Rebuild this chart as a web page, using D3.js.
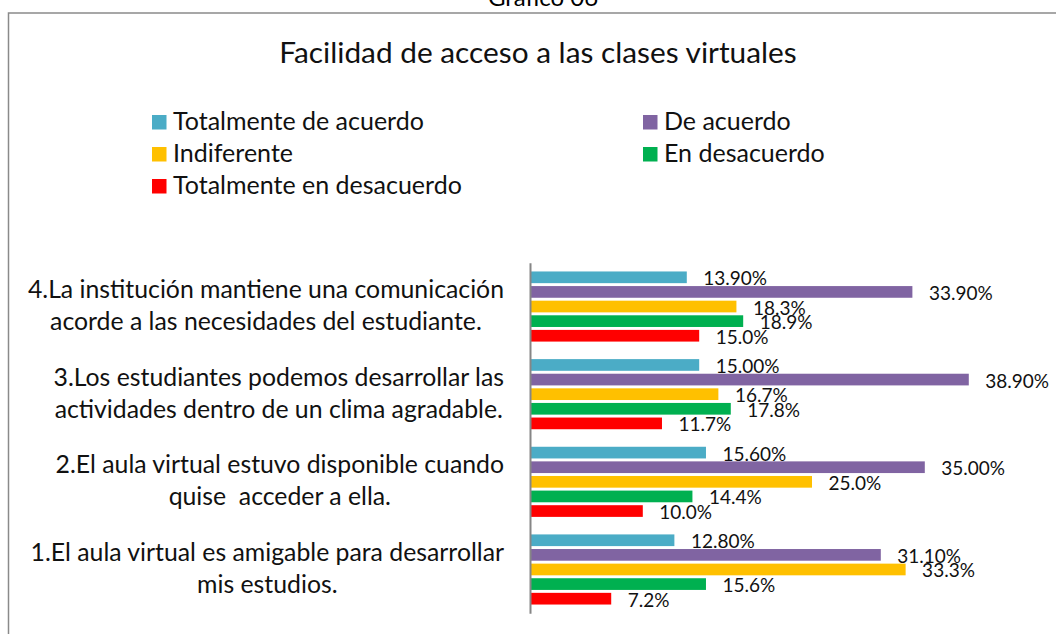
<!DOCTYPE html>
<html>
<head>
<meta charset="utf-8">
<script src="https://cdn.jsdelivr.net/npm/d3@7"></script>
<style>
  body { margin: 0; background: #fff; }
  svg { display: block; font-family: Lato, "Open Sans", sans-serif; }
</style>
</head>
<body>
<svg id="chart" width="1056" height="634"></svg>
<script>
// categories, bottom to top as in the source sheet
var categories = [
  "1.El aula virtual es amigable para desarrollar\nmis estudios.",
  "2.El aula virtual estuvo disponible cuando\nquise  acceder a ella.",
  "3.Los estudiantes podemos desarrollar las\nactividades dentro de un clima agradable.",
  "4.La institución mantiene una comunicación\nacorde a las necesidades del estudiante."
];
var seriesNames = ["Totalmente de acuerdo", "De acuerdo", "Indiferente", "En desacuerdo", "Totalmente en desacuerdo"];
var seriesColors = ["#4BACC6", "#8064A2", "#FFC000", "#00B050", "#FF0000"];
var seriesFormats = [".2%", ".2%", ".1%", ".1%", ".1%"];

var totalmenteDeAcuerdo = [0.128, 0.156, 0.150, 0.139];
var deAcuerdo = [0.311, 0.350, 0.389, 0.339];
var indiferente = [0.333, 0.250, 0.167, 0.183];
var enDesacuerdo = [0.156, 0.144, 0.178, 0.189];
var totalmenteEnDesacuerdo = [0.072, 0.100, 0.117, 0.150];

var seriesValues = [totalmenteDeAcuerdo, deAcuerdo, indiferente, enDesacuerdo, totalmenteEnDesacuerdo];

var svg = d3.select("#chart");

// outer frame (runs off the page on the right and bottom)
svg.append("rect")
  .attr("x", 8.5).attr("y", 13)
  .attr("width", 1200).attr("height", 800)
  .attr("fill", "none")
  .attr("stroke", "#8a8a8a")
  .attr("stroke-width", 1.5);

svg.append("text")
  .attr("x", 543).attr("y", 6)
  .attr("text-anchor", "middle")
  .attr("font-size", 24)
  .text("Gráfico 06");

svg.append("text")
  .attr("x", 538).attr("y", 63)
  .attr("text-anchor", "middle")
  .attr("font-size", 29.8)
  .attr("fill", "#111")
  .text("Facilidad de acceso a las clases virtuales");

// legend
var legend = svg.append("g").selectAll("g")
  .data(seriesNames)
  .join("g")
  .attr("transform", function(d, i) {
    return "translate(" + (152 + (i % 2) * 491) + "," + (115 + Math.floor(i / 2) * 32) + ")";
  });

legend.append("rect")
  .attr("width", 14.5).attr("height", 14.5)
  .attr("fill", function(d, i) { return seriesColors[i]; });

legend.append("text")
  .attr("x", 21).attr("y", 15)
  .attr("font-size", 25)
  .attr("fill", "#111")
  .text(function(d) { return d; });

// scales
var x = d3.scaleLinear().domain([0, 0.45]).range([530, 1037.6]);
var y = d3.scaleBand()
  .domain(categories.slice().reverse())
  .range([262.7, 613.3]);
var yi = d3.scaleBand()
  .domain(d3.range(seriesNames.length))
  .range([0, y.bandwidth()])
  .paddingInner(0.2)
  .paddingOuter(0.6);

var groups = svg.append("g").selectAll("g")
  .data(categories)
  .join("g")
  .attr("transform", function(d) { return "translate(0," + y(d) + ")"; });

groups.selectAll("rect")
  .data(function(d, ci) {
    return seriesValues.map(function(vals, si) { return { s: si, v: vals[ci] }; });
  })
  .join("rect")
  .attr("x", x(0))
  .attr("y", function(d) { return yi(d.s); })
  .attr("width", function(d) { return x(d.v) - x(0); })
  .attr("height", yi.bandwidth())
  .attr("fill", function(d) { return seriesColors[d.s]; });

groups.selectAll("text.val")
  .data(function(d, ci) {
    return seriesValues.map(function(vals, si) { return { s: si, v: vals[ci] }; });
  })
  .join("text")
  .attr("class", "val")
  .attr("x", function(d) { return x(d.v) + 16.5; })
  .attr("y", function(d) { return yi(d.s) + yi.bandwidth() / 2 + 8; })
  .attr("font-size", 19)
  .attr("fill", "#111")
  .text(function(d) { return d3.format(seriesFormats[d.s])(d.v); });

// category axis: only the line, labels are drawn as centred blocks
var axis = svg.append("g")
  .attr("transform", "translate(" + x(0) + ",0)")
  .call(d3.axisLeft(y).tickSize(0).tickFormat(""));
axis.select(".domain").attr("stroke", "#868686").attr("stroke-width", 2);

var labels = svg.append("g").selectAll("text")
  .data(categories)
  .join("text")
  .attr("font-size", 24.8)
  .attr("fill", "#111")
  .attr("text-anchor", "middle");

labels.each(function(d) {
  var t = d3.select(this);
  var lines = d.split("\n");
  var c = y(d) + y.bandwidth() / 2;
  lines.forEach(function(line, k) {
    t.append("tspan")
      .attr("y", c - 8.4 + k * 31.8)
      .attr("xml:space", "preserve")
      .text(line);
  });
  var w = d3.max(t.selectAll("tspan").nodes(), function(n) { return n.getComputedTextLength(); });
  t.selectAll("tspan").attr("x", 504 - w / 2);
});
</script>
</body>
</html>
